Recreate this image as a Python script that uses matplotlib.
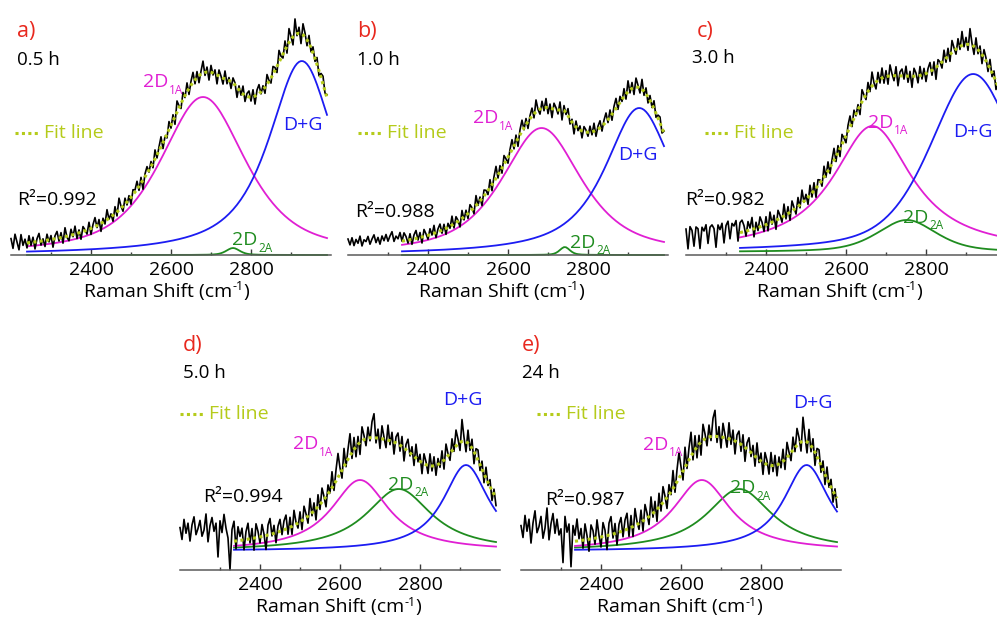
import numpy as np
import matplotlib
matplotlib.use('Agg')
import matplotlib.pyplot as plt
from matplotlib.lines import Line2D
from matplotlib.ticker import FixedLocator

# ---------------- data ----------------
panel_letters = ['a)', 'b)', 'c)', 'd)', 'e)']
times = ['0.5 h', '1.0 h', '3.0 h', '5.0 h', '24 h']
r_squared = ['0.992', '0.988', '0.982', '0.994', '0.987']

shift_first, shift_last, shift_step = 2200, 2990, 5
fit_start = [2240, 2335, 2332, 2332, 2335]
baseline = [0, 0, 3, 19, 19]

# 2D1A component: centre, height, FWHM, Lorentzian fraction
d1a_center = [2680, 2684, 2666, 2650, 2652]
d1a_height = [158, 127, 126, 71, 71]
d1a_fwhm = [256, 240, 240, 175, 175]
d1a_eta = [0.7, 0.75, 1.0, 1.0, 1.0]
# 2D2A component
d2a_center = [2755, 2742, 2752, 2747, 2746]
d2a_height = [7, 8, 32, 62, 62]
d2a_fwhm = [40, 30, 175, 200, 200]
d2a_eta = [0.5, 0.5, 0.5, 1.0, 1.0]
# D+G component
dg_center = [2927, 2928, 2918, 2915, 2914]
dg_height = [194, 147, 178, 86, 86]
dg_fwhm = [200, 206, 255, 140, 140]
dg_eta = [0.85, 0.85, 0.5, 1.0, 1.0]

resid_a = [6, -4, 10, 2, -6, 9, -2, 4, -5, 7,
           -3, 5, -7, 3, 8, -4, 2, -6, 6, -2,
           4, -8, 3, 7, -3, 5, -6, 9, -1, -5,
           6, -2, 8, -5, 3, -7, 5, 1, -4, 7,
           -6, 3, 9, -2, 5, -8, 4, -3, 10, -1,
           3, -6, 7, -4, 12, 2, -5, 6, -3, 4,
           -7, 5, 2, 8, -4, 6, -9, 3, 7, -2,
           5, -5, 9, -3, 4, 10, -6, 2, -4, 8,
           -3, 6, -8, 11, 2, -5, 7, -2, 9, -6,
           4, 10, -4, 6, -7, 3, 12, -3, 5, -8,
           7, -2, 4, -9, 6, 1, -6, 8, -4, 3,
           -7, 5, 2, -10, 4, -3, 8, -6, 3, 6,
           -4, 7, -8, 5, 9, -2, 4, -6, 10, 1,
           -5, 8, 3, -6, 12, 2, -4, 9, -7, 14,
           3, -8, 16, -2, 6, -10, 11, 4, -6, 8,
           -4, 6, -3, 7, -5, 4, 8, -2, 3]
resid_b = [8, 2, 9, 1, 7, 3, 10, 0, 6, 4,
           9, 1, 6, 10, 2, 7, 0, 8, 3, 9,
           2, 7, 11, 1, 6, 3, 9, 0, 8, 4,
           -3, 6, -5, 4, 8, -2, 5, -6, 7, 2,
           -4, 6, -1, 8, -5, 3, 7, -3, 5, -6,
           4, -2, 9, -4, 6, 1, -7, 8, -3, 5,
           -5, 7, 2, -6, 10, -2, 4, -7, 6, 3,
           -4, 8, -6, 5, 12, -3, 6, -5, 9, 2,
           -6, 4, 10, -3, 7, -8, 5, 11, -2, 6,
           -7, 3, 8, -4, 12, 1, -5, 7, -3, 9,
           -6, 4, -9, 6, 2, -4, 8, -10, 5, -2,
           7, -5, 3, -9, 6, -2, 4, -7, 5, 2,
           -4, 6, -3, 8, -6, 3, 7, -5, 4, 9,
           -3, 7, -6, 5, 10, -4, 6, -2, 8, -5,
           11, -3, 6, -7, 9, 2, -5, 10, -4, 6,
           -6, 5, -3, 8, -4, 3, 6, -5, 2]
resid_c = [12, -8, 14, 10, -6, 13, 11, -9, 12, 8,
           14, -5, 11, 13, 9, -10, 12, 7, 13, -7,
           10, 14, -4, 11, 8, 13, -8, 10, 12, 6,
           -5, 9, 2, 12, -8, 6, -3, 10, 4, -6,
           8, -7, 11, -2, 6, -9, 9, 3, -5, 12,
           -4, 7, -8, 10, 2, -6, 9, -3, 13, -1,
           5, -7, 10, -4, 8, -9, 6, 3, -6, 11,
           -3, 9, -6, 4, 12, -5, 7, -8, 10, 2,
           -7, 6, 11, -4, 8, -2, 5, -9, 12, 3,
           -5, 9, -3, 14, 1, -7, 8, -4, 10, -6,
           6, -8, 11, 2, -5, 9, -10, 4, 7, -3,
           10, -6, 5, -11, 8, 3, -7, 9, -4, 6,
           -8, 4, 9, -5, 7, -12, 6, 2, -6, 10,
           -4, 8, -7, 12, 3, -5, 9, -3, 14, -2,
           7, -6, 16, 2, -8, 10, -4, 6, -9, 8,
           3, -7, 9, -4, 6, -8, 5, 2, -3]
resid_d = [18, 6, 26, 12, 22, 4, 20, 28, 10, 16,
           24, 8, 14, 30, 2, 18, 26, 12, 20, -14,
           22, 10, 28, 14, 4, -28, 12, 20, -8, 14,
           4, 12, -10, 8, 16, -4, 10, -12, 14, 6,
           -6, 12, 2, -14, 10, 16, -2, 8, -10, 6,
           12, -4, 9, 14, -6, 10, -8, 15, 2, -5,
           10, -9, 13, 4, -7, 16, -3, 8, -11, 12,
           -5, 14, 3, -10, 9, -2, 16, -6, 11, 24,
           6, -8, 18, -4, 10, 22, -6, 12, -10, 8,
           -12, 14, 4, -7, 11, -3, 16, 24, -5, 9,
           -10, 13, 2, -8, 15, -4, 9, -12, 6, 11,
           -6, 10, -13, 5, 12, -3, 8, -9, 14, -2,
           7, -11, 10, 3, -8, 12, -5, 9, -10, 6,
           -4, 11, -9, 14, 2, -7, 12, -3, 16, 5,
           -8, 22, 4, -10, 13, -5, 9, -12, 7, 10,
           -6, 8, -9, 11, -3, 7, -10, 5, -8]
resid_e = [20, 8, 30, 14, 26, 2, 22, 34, 12, 18,
           28, 6, 16, 36, 4, 20, 30, 10, 24, 8,
           14, -20, 26, 10, 18, -25, 16, 6, 22, 2,
           12, -8, 16, 4, -12, 14, 8, -6, 18, 2,
           -10, 14, 6, -14, 12, 18, -4, 10, -12, 8,
           14, -6, 10, 16, -8, 12, -10, 17, 3, -6,
           12, -10, 15, 5, -8, 18, -4, 10, -12, 14,
           -6, 16, 4, -11, 10, -3, 18, -7, 12, 26,
           8, -9, 20, -5, 12, 24, -7, 14, -11, 9,
           -13, 16, 5, -8, 12, -4, 18, 26, -6, 10,
           -11, 14, 3, -9, 16, -5, 10, -13, 7, 12,
           -7, 11, -14, 6, 13, -4, 9, -10, 15, -3,
           8, -12, 11, 4, -9, 13, -6, 10, -11, 7,
           -5, 12, -10, 15, 3, -8, 13, -4, 17, 6,
           -9, 24, 5, -11, 14, -6, 10, -13, 8, 11,
           -7, 9, -10, 12, -4, 8, -11, 6, -9]
residuals = [resid_a, resid_b, resid_c, resid_d, resid_e]

major_ticks = [2400, 2600, 2800]
minor_ticks = [2300, 2500, 2700, 2900]

# ---------------- style / layout ----------------
W, H = 997, 617
C_MAG, C_BLUE, C_GREEN = '#e01fd3', '#1c1cf2', '#1f8c1f'
C_FIT, C_RED = '#b5cb1b', '#e8281e'
FONT = ['Open Sans', 'DejaVu Sans']
plt.rcParams['font.family'] = FONT

# axes: left px, bottom px, height px  (x span 2200-3000 = 320 px)
axes_px = [(11, 255, 255), (348, 255, 255), (686, 255, 255),
           (180, 570, 250), (521, 570, 250)]
# text positions (px): letter, time, fit-legend, R2, 2D1A, D+G, 2D2A, xlabel-centre
txt = [
    dict(letter=(17, 32), time=(17, 60), fit=(15, 133), r2=(17, 200),
         d1a=(143, 82), dg=(283, 125), d2a=(232, 240), xl=(167, 292)),
    dict(letter=(357, 32), time=(357, 60), fit=(358, 133), r2=(355, 212),
         d1a=(473, 118), dg=(618, 155), d2a=(570, 243), xl=(502, 292)),
    dict(letter=(697, 32), time=(692, 58), fit=(705, 133), r2=(685, 200),
         d1a=(868, 123), dg=(953, 132), d2a=(903, 218), xl=(840, 292)),
    dict(letter=(183, 345), time=(183, 373), fit=(180, 414), r2=(203, 497),
         d1a=(293, 444), dg=(443, 400), d2a=(388, 485), xl=(339, 607)),
    dict(letter=(522, 345), time=(522, 373), fit=(537, 414), r2=(545, 500),
         d1a=(643, 445), dg=(793, 403), d2a=(730, 488), xl=(680, 607)),
]

fig = plt.figure(figsize=(W / 100, H / 100), dpi=100)
renderer = fig.canvas.get_renderer()


def fx(p):
    return p / W


def fy(p):
    return 1 - p / H


def pvoigt(x, c, h, w, eta):
    lor = 1.0 / (1.0 + ((x - c) / (w / 2.0)) ** 2)
    gau = np.exp(-4 * np.log(2) * ((x - c) / w) ** 2)
    return h * (eta * lor + (1 - eta) * gau)


def text_width(s, size):
    t = fig.text(0, 0, s, fontsize=size)
    w = t.get_window_extent(renderer=renderer).width
    t.remove()
    return w


def sub_label(x, y, main, sub, color):
    w = text_width(main, 14)
    fig.text(fx(x), fy(y), main, color=color, fontsize=14,
             ha='left', va='center')
    fig.text(fx(x + w + 1), fy(y + 8), sub, color=color, fontsize=8.5,
             ha='left', va='center')


def xlabel(xc, y):
    p1, p2, p3 = 'Raman Shift (cm', '-1', ')'
    w1, w2, w3 = text_width(p1, 14), text_width(p2, 9), text_width(p3, 14)
    x0 = xc - (w1 + w2 + w3) / 2
    fig.text(fx(x0), fy(y), p1, fontsize=14, ha='left', va='center')
    fig.text(fx(x0 + w1), fy(y - 5), p2, fontsize=9, ha='left', va='center')
    fig.text(fx(x0 + w1 + w2), fy(y), p3, fontsize=14, ha='left', va='center')


shift = np.arange(shift_first, shift_last + 1, shift_step)

for i in range(5):
    left, bottom, hpx = axes_px[i]
    ax = fig.add_axes([fx(left), fy(bottom), 320 / W, hpx / H])
    ax.set_xlim(2200, 3000)
    ax.set_ylim(0, hpx)
    ax.patch.set_alpha(0)
    for s in ['left', 'right', 'top']:
        ax.spines[s].set_visible(False)
    ax.spines['bottom'].set_color('#5a5a5a')
    ax.spines['bottom'].set_linewidth(1.1)
    ax.spines['bottom'].set_zorder(5)
    ax.set_yticks([])
    ax.xaxis.set_major_locator(FixedLocator(major_ticks))
    ax.xaxis.set_minor_locator(FixedLocator(minor_ticks))
    ax.tick_params(axis='x', which='major', direction='in', length=4, width=1,
                   color='#3a3a3a', labelsize=14, pad=4)
    ax.tick_params(axis='x', which='minor', direction='in', length=2, width=1,
                   color='#3a3a3a')

    b = baseline[i]
    m1 = pvoigt(shift, d1a_center[i], d1a_height[i], d1a_fwhm[i], d1a_eta[i])
    m2 = pvoigt(shift, d2a_center[i], d2a_height[i], d2a_fwhm[i], d2a_eta[i])
    m3 = pvoigt(shift, dg_center[i], dg_height[i], dg_fwhm[i], dg_eta[i])
    model = b + m1 + m2 + m3
    spectrum = model + np.array(residuals[i], dtype=float)
    fm = shift >= fit_start[i]

    ax.plot(shift[fm], b + m2[fm], color=C_GREEN, lw=1.3, zorder=2, clip_on=False)
    ax.plot(shift[fm], b + m1[fm], color=C_MAG, lw=1.3, zorder=2, clip_on=False)
    ax.plot(shift[fm], b + m3[fm], color=C_BLUE, lw=1.3, zorder=2, clip_on=False)
    ax.plot(shift, np.clip(spectrum, 0, None), color='black', lw=1.2, zorder=3,
            clip_on=False)
    ax.plot(shift[fm], model[fm], color=C_FIT, lw=2.2, ls=(0, (1, 1.1)),
            zorder=4, clip_on=False)

    t = txt[i]
    fig.text(fx(t['letter'][0]), fy(t['letter'][1]), panel_letters[i],
             color=C_RED, fontsize=15.5, ha='left', va='center')
    fig.text(fx(t['time'][0]), fy(t['time'][1]), times[i], color='black',
             fontsize=13.5, ha='left', va='center')
    lx, ly = t['fit']
    fig.add_artist(Line2D([fx(lx), fx(lx + 24)], [fy(ly), fy(ly)],
                          transform=fig.transFigure, color=C_FIT, lw=2.2,
                          ls=(0, (1, 1.1))))
    fig.text(fx(lx + 29), fy(ly), 'Fit line', color=C_FIT, fontsize=14,
             ha='left', va='center')
    fig.text(fx(t['r2'][0]), fy(t['r2'][1]), 'R\u00b2=' + r_squared[i],
             color='black', fontsize=14, ha='left', va='center')
    sub_label(t['d1a'][0], t['d1a'][1], '2D', '1A', C_MAG)
    fig.text(fx(t['dg'][0]), fy(t['dg'][1]), 'D+G', color=C_BLUE, fontsize=14,
             ha='left', va='center')
    sub_label(t['d2a'][0], t['d2a'][1], '2D', '2A', C_GREEN)
    xlabel(t['xl'][0], t['xl'][1])

fig.savefig('out.png', dpi=100)
